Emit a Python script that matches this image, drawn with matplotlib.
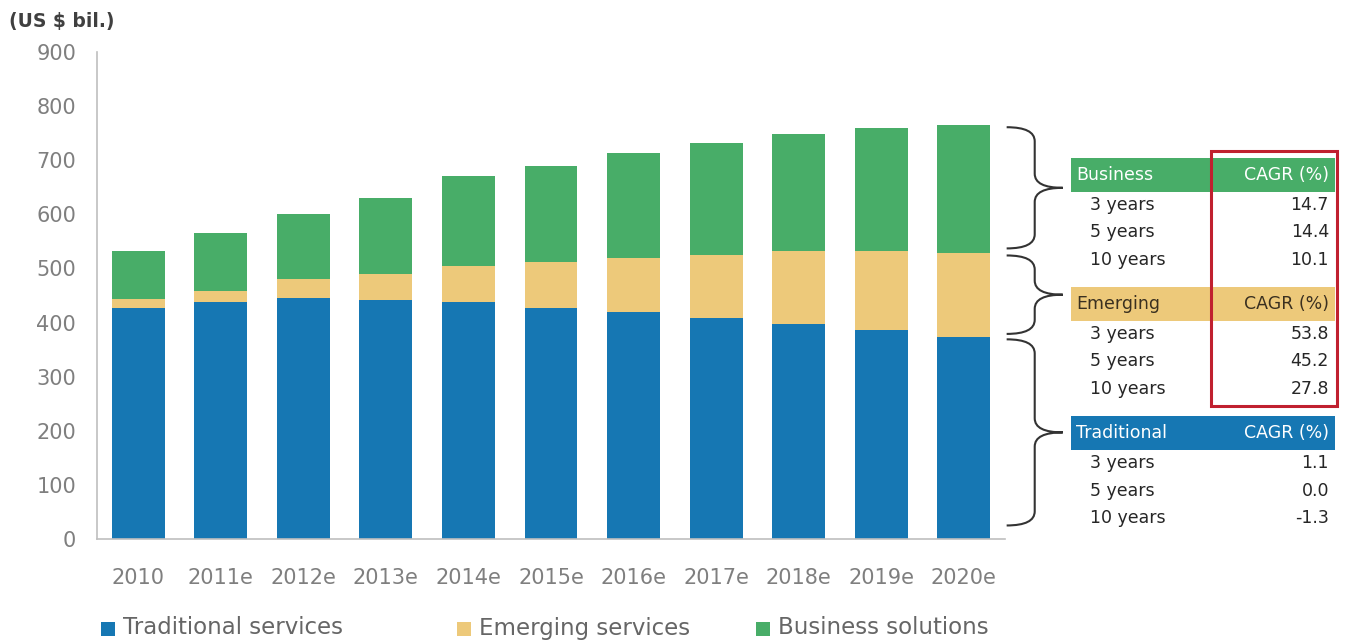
import matplotlib
matplotlib.use("Agg")
import matplotlib.pyplot as plt
import numpy as np
from matplotlib.patches import Rectangle, PathPatch
from matplotlib.path import Path

plt.rcParams['font.family'] = ['DejaVu Sans']

years = ["2010", "2011e", "2012e", "2013e", "2014e", "2015e", "2016e",
         "2017e", "2018e", "2019e", "2020e"]
traditional = [427, 438, 445, 442, 438, 427, 419, 408, 397, 387, 374]
emerging = [17, 20, 35, 48, 67, 85, 101, 117, 135, 145, 155]
business = [89, 107, 120, 141, 165, 178, 193, 207, 217, 228, 237]

series_names = ["Traditional services", "Emerging services", "Business solutions"]
table_groups = ["Business", "Emerging", "Traditional"]
table_periods = ["3 years", "5 years", "10 years"]
cagr_business = ["14.7", "14.4", "10.1"]
cagr_emerging = ["53.8", "45.2", "27.8"]
cagr_traditional = ["1.1", "0.0", "-1.3"]

c_blue = '#1677B3'
c_tan = '#EDC97A'
c_green = '#48AD68'
c_text = '#7F7F7F'

W, H = 1345, 643
fig = plt.figure(figsize=(W / 100, H / 100), dpi=100)
fx = lambda px: px / W
fy = lambda py: 1 - py / H

ax = fig.add_axes([fx(97), fy(539), fx(1005) - fx(97), fy(52) - fy(539)])
x = np.arange(len(years))
w = 0.64
trad = np.array(traditional)
emer = np.array(emerging)
bus = np.array(business)
b1 = ax.bar(x, trad, w, color=c_blue, label=series_names[0])
b2 = ax.bar(x, emer, w, bottom=trad, color=c_tan, label=series_names[1])
b3 = ax.bar(x, bus, w, bottom=trad + emer, color=c_green, label=series_names[2])

ax.set_xlim(-0.5, 10.5)
ax.set_ylim(0, 900)
ax.set_yticks(range(0, 901, 100))
ax.set_xticks(x)
ax.set_xticklabels(years)
ax.tick_params(axis='both', length=0, labelsize=15, labelcolor=c_text)
ax.tick_params(axis='y', pad=15)
ax.tick_params(axis='x', pad=21)
for s in ['top', 'right']:
    ax.spines[s].set_visible(False)
for s in ['left', 'bottom']:
    ax.spines[s].set_color('#BFBFBF')
    ax.spines[s].set_linewidth(1.2)

fig.text(fx(9), fy(22), "(US $ bil.)", fontsize=13.5, fontweight='bold',
         color='#404040', va='center', ha='left')

# braces based on 2020 segments
def brace(ax, x0, y0, y1, wd, q):
    xm = x0 + wd / 2
    ym = (y0 + y1) / 2
    verts = [(x0, y1), (xm, y1), (xm, y1 - q), (xm, ym + q),
             (xm, ym), (x0 + wd, ym), (xm, ym), (xm, ym - q),
             (xm, y0 + q), (xm, y0), (x0, y0)]
    codes = [Path.MOVETO, Path.CURVE3, Path.CURVE3, Path.LINETO,
             Path.CURVE3, Path.CURVE3, Path.CURVE3, Path.CURVE3,
             Path.LINETO, Path.CURVE3, Path.CURVE3]
    p = PathPatch(Path(verts, codes), fill=False, edgecolor='#333333',
                  lw=1.5, clip_on=False)
    ax.add_patch(p)

last = len(years) - 1
t_top = traditional[last]
e_top = t_top + emerging[last]
b_top = e_top + business[last]
bx0 = 10.52
bw = 0.68
brace(ax, bx0, e_top + 8, b_top - 5, bw, 26)
brace(ax, bx0, t_top + 5, e_top - 5, bw, 26)
brace(ax, bx0, 25, t_top - 5, bw, 26)

# CAGR table
hdr_colors = [c_green, c_tan, c_blue]
hdr_text = ['white', '#3a3020', 'white']
values = [cagr_business, cagr_emerging, cagr_traditional]
hdr_tops = [158, 287, 416]
tl, tr = 1071, 1335
hh = 34
row_h = 27.5
fs_t = 12.5
for g, top in enumerate(hdr_tops):
    fig.patches.append(Rectangle((fx(tl), fy(top + hh)), fx(tr) - fx(tl),
                                 fy(top) - fy(top + hh), transform=fig.transFigure,
                                 facecolor=hdr_colors[g], edgecolor='none'))
    fig.text(fx(1076), fy(top + hh / 2), table_groups[g], color=hdr_text[g],
             fontsize=fs_t, va='center', ha='left')
    fig.text(fx(1329), fy(top + hh / 2), "CAGR (%)", color=hdr_text[g],
             fontsize=fs_t, va='center', ha='right')
    for r in range(3):
        yy = top + hh + 13 + r * row_h
        fig.text(fx(1090), fy(yy), table_periods[r], color='#262626',
                 fontsize=fs_t, va='center', ha='left')
        fig.text(fx(1329), fy(yy), values[g][r], color='#262626',
                 fontsize=fs_t, va='center', ha='right')

fig.patches.append(Rectangle((fx(1211), fy(406)), fx(1337) - fx(1211),
                             fy(151) - fy(406), transform=fig.transFigure,
                             facecolor='none', edgecolor='#C0202F', lw=2.2))

# legend
leg_x = [101, 457, 756]
for i, (name, c) in enumerate(zip(series_names, [c_blue, c_tan, c_green])):
    fig.patches.append(Rectangle((fx(leg_x[i]), fy(636)), fx(14), 14 / H,
                                 transform=fig.transFigure, facecolor=c,
                                 edgecolor='none'))
    fig.text(fx(leg_x[i] + 22), fy(628), name, fontsize=16.5, color='#666666',
             va='center', ha='left')

fig.savefig("out.png", dpi=100)
